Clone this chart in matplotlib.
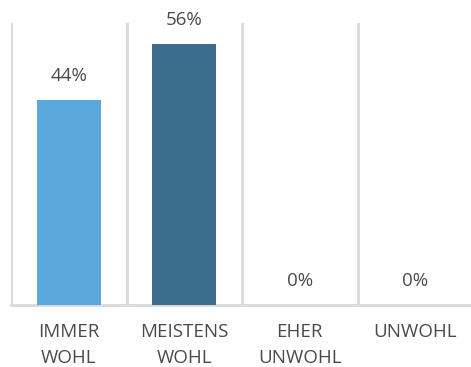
import matplotlib.pyplot as plt
import numpy as np

categories = ["IMMER\nWOHL", "MEISTENS\nWOHL", "EHER\nUNWOHL", "UNWOHL"]
values = [0.44, 0.56, 0.0, 0.0]
value_labels = ["44%", "56%", "0%", "0%"]
colors = ["#5BA8DC", "#3D6D8E", "#5BA8DC", "#3D6D8E"]

plt.rcParams['font.family'] = ['Open Sans', 'DejaVu Sans']
text_color = "#4A4A4A"
grid_color = "#D9D9D9"

fig = plt.figure(figsize=(4.71, 3.67), dpi=100)
ax = fig.add_axes([11 / 471, 1 - 305 / 367, 462 / 471, 282 / 367])

x = np.arange(len(categories))
ax.bar(x, values, width=0.555, color=colors, zorder=3)

for xi, v, lab in zip(x, values, value_labels):
    ax.annotate(lab, (xi, v), xytext=(0, 17.5), textcoords="offset points",
                ha="center", va="center", fontsize=13.5, color=text_color,
                annotation_clip=False)

ax.set_xlim(-0.5, len(categories) - 0.5)
ax.set_ylim(0, 0.605)

ax.set_xticks(x)
ax.set_xticklabels(categories, fontsize=13.5, color=text_color, linespacing=1.55)
ax.tick_params(axis="x", length=0, pad=13)
ax.set_yticks([])

ax.set_xticks(np.arange(-0.5, len(categories), 1), minor=True)
ax.tick_params(axis="x", which="minor", length=0)
ax.grid(axis="x", which="minor", color=grid_color, linewidth=2, zorder=0)
ax.grid(axis="x", which="major", visible=False)

for side in ["top", "right", "left"]:
    ax.spines[side].set_visible(False)
ax.spines["bottom"].set_color(grid_color)
ax.spines["bottom"].set_linewidth(2)

fig.savefig("out.png", dpi=100)
